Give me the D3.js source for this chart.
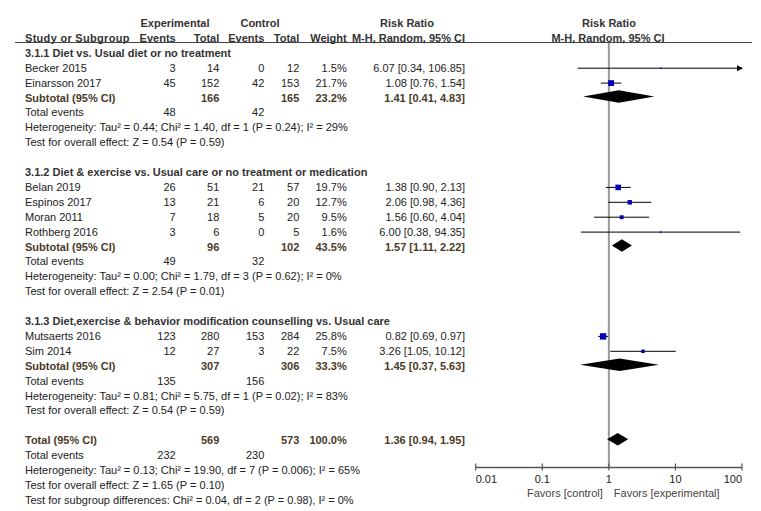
<!DOCTYPE html>
<html>
<head>
<meta charset="utf-8">
<script src="https://cdn.jsdelivr.net/npm/d3@7"></script>
<style>
  body { margin: 0; background: #fff; }
  svg { display: block; font-family: "Liberation Sans", Arial, sans-serif; font-size: 11px; }
</style>
</head>
<body>
<div id="chart"></div>
<script>
'use strict';

var W = 761, H = 511;

// study level data
var studies = ['Becker 2015', 'Einarsson 2017', 'Belan 2019', 'Espinos 2017', 'Moran 2011', 'Rothberg 2016', 'Mutsaerts 2016', 'Sim 2014'];
var studyGroup = [0, 0, 1, 1, 1, 1, 2, 2];
var expEvents = [3, 45, 26, 13, 7, 3, 123, 12];
var expTotal = [14, 152, 51, 21, 18, 6, 280, 27];
var ctlEvents = [0, 42, 21, 6, 5, 0, 153, 3];
var ctlTotal = [12, 153, 57, 20, 20, 5, 284, 22];
var weights = [1.5, 21.7, 19.7, 12.7, 9.5, 1.6, 25.8, 7.5];
var rr = [6.07, 1.08, 1.38, 2.06, 1.56, 6.00, 0.82, 3.26];
var rrLo = [0.34, 0.76, 0.90, 0.98, 0.60, 0.38, 0.69, 1.05];
var rrHi = [106.85, 1.54, 2.13, 4.36, 4.04, 94.35, 0.97, 10.12];

// subgroup data
var groupTitles = [
    '3.1.1 Diet vs. Usual diet or no treatment',
    '3.1.2 Diet & exercise vs. Usual care or no treatment or medication',
    '3.1.3 Diet,exercise & behavior modification counselling vs. Usual care'
];
var subExpTotal = [166, 96, 307];
var subCtlTotal = [165, 102, 306];
var subWeight = [23.2, 43.5, 33.3];
var subRR = [1.41, 1.57, 1.45];
var subLo = [0.41, 1.11, 0.37];
var subHi = [4.83, 2.22, 5.63];
var subExpEvents = [48, 49, 135];
var subCtlEvents = [42, 32, 156];
var subHet = [
    'Heterogeneity: Tau\u00b2 = 0.44; Chi\u00b2 = 1.40, df = 1 (P = 0.24); I\u00b2 = 29%',
    'Heterogeneity: Tau\u00b2 = 0.00; Chi\u00b2 = 1.79, df = 3 (P = 0.62); I\u00b2 = 0%',
    'Heterogeneity: Tau\u00b2 = 0.81; Chi\u00b2 = 5.75, df = 1 (P = 0.02); I\u00b2 = 83%'
];
var subZ = [
    'Test for overall effect: Z = 0.54 (P = 0.59)',
    'Test for overall effect: Z = 2.54 (P = 0.01)',
    'Test for overall effect: Z = 0.54 (P = 0.59)'
];

// overall
var totExpTotal = 569, totCtlTotal = 573, totWeight = 100.0;
var totRR = 1.36, totLo = 0.94, totHi = 1.95;
var totExpEvents = 232, totCtlEvents = 230;
var totNotes = [
    'Heterogeneity: Tau\u00b2 = 0.13; Chi\u00b2 = 19.90, df = 7 (P = 0.006); I\u00b2 = 65%',
    'Test for overall effect: Z = 1.65 (P = 0.10)',
    'Test for subgroup differences: Chi\u00b2 = 0.04, df = 2 (P = 0.98), I\u00b2 = 0%'
];

var axisTicks = [0.01, 0.1, 1, 10, 100];
var axisLabels = ['0.01', '0.1', '1', '10', '100'];

var svg = d3.select('#chart').append('svg')
    .attr('width', W)
    .attr('height', H);

var y = d3.scaleLinear().domain([0, 32]).range([23, 499.8]);
var x = d3.scaleLog().domain([0.01, 100]).range([475.7, 742]);

var TXT = '#222', HEAD = '#333', SUB = '#4a3b28', BLUE = '#0000b8';

// column right edges
var col = { name: 25, ee: 175.7, et: 219.3, ce: 264.3, ct: 299.3, w: 346.7, rr: 465 };

function txt(xx, row, s, anchor, opts) {
    opts = opts || {};
    return svg.append('text')
        .attr('x', xx)
        .attr('y', y(row) + 4)
        .attr('text-anchor', anchor || 'start')
        .attr('fill', opts.fill || TXT)
        .attr('font-weight', opts.bold ? 'bold' : null)
        .text(s);
}

function fmtCI(v, lo, hi) {
    return v.toFixed(2) + ' [' + lo.toFixed(2) + ', ' + hi.toFixed(2) + ']';
}

// headers
var hb = { bold: true, fill: HEAD };
txt(175, 0, 'Experimental', 'middle', hb);
txt(260, 0, 'Control', 'middle', hb);
txt(407, 0, 'Risk Ratio', 'middle', hb);
txt(609, 0, 'Risk Ratio', 'middle', hb);
txt(col.name, 1, 'Study or Subgroup', 'start', hb).attr('letter-spacing', 0.3);
txt(col.ee, 1, 'Events', 'end', hb);
txt(col.et, 1, 'Total', 'end', hb);
txt(col.ce, 1, 'Events', 'end', hb);
txt(col.ct, 1, 'Total', 'end', hb);
txt(col.w, 1, 'Weight', 'end', hb);
txt(col.rr, 1, 'M-H, Random, 95% CI', 'end', hb);
txt(608, 1, 'M-H, Random, 95% CI', 'middle', hb);

svg.append('line')
    .attr('x1', 15).attr('x2', 752)
    .attr('y1', 42.5).attr('y2', 42.5)
    .attr('stroke', '#444').attr('stroke-width', 1);

// null line
svg.append('line')
    .attr('x1', x(1)).attr('x2', x(1))
    .attr('y1', 43).attr('y2', 467)
    .attr('stroke', '#999').attr('stroke-width', 2);

function diamond(row, v, lo, hi) {
    var cy = y(row) - 1, h = 6.3;
    svg.append('path')
        .attr('d', 'M' + x(lo) + ',' + cy + 'L' + x(v) + ',' + (cy - h) + 'L' + x(hi) + ',' + cy + 'L' + x(v) + ',' + (cy + h) + 'Z')
        .attr('fill', '#000');
}

// build rows
var row = 2;
groupTitles.forEach(function(title, g) {
    txt(col.name, row, title, 'start', hb);
    row++;
    studies.forEach(function(name, i) {
        if (studyGroup[i] !== g) return;
        txt(col.name, row, name);
        txt(col.ee, row, expEvents[i], 'end');
        txt(col.et, row, expTotal[i], 'end');
        txt(col.ce, row, ctlEvents[i], 'end');
        txt(col.ct, row, ctlTotal[i], 'end');
        txt(col.w, row, weights[i].toFixed(1) + '%', 'end');
        txt(col.rr, row, fmtCI(rr[i], rrLo[i], rrHi[i]), 'end');

        var cy = y(row) + 0.5;
        var hiX = x(Math.min(rrHi[i], 100));
        svg.append('line')
            .attr('x1', x(rrLo[i])).attr('x2', hiX)
            .attr('y1', cy).attr('y2', cy)
            .attr('stroke', '#000').attr('stroke-width', 1);
        if (rrHi[i] > 100) {
            svg.append('path')
                .attr('d', 'M' + (hiX + 1) + ',' + cy + 'L' + (hiX - 5) + ',' + (cy - 3) + 'L' + (hiX - 5) + ',' + (cy + 3) + 'Z')
                .attr('fill', '#000');
        }
        var s = Math.max(1.3, Math.sqrt(weights[i]) * 1.25);
        svg.append('rect')
            .attr('x', x(rr[i]) - s / 2).attr('y', cy - s / 2)
            .attr('width', s).attr('height', s)
            .attr('fill', BLUE);
        row++;
    });
    var sb = { bold: true, fill: SUB };
    txt(col.name, row, 'Subtotal (95% CI)', 'start', sb);
    txt(col.et, row, subExpTotal[g], 'end', sb);
    txt(col.ct, row, subCtlTotal[g], 'end', sb);
    txt(col.w, row, subWeight[g].toFixed(1) + '%', 'end', sb);
    txt(col.rr, row, fmtCI(subRR[g], subLo[g], subHi[g]), 'end', sb);
    diamond(row, subRR[g], subLo[g], subHi[g]);
    row++;
    txt(col.name, row, 'Total events');
    txt(col.ee, row, subExpEvents[g], 'end');
    txt(col.ce, row, subCtlEvents[g], 'end');
    row++;
    txt(col.name, row, subHet[g]);
    row++;
    txt(col.name, row, subZ[g]);
    row += 2;
});

// overall
var tb = { bold: true, fill: SUB };
txt(col.name, row, 'Total (95% CI)', 'start', tb);
txt(col.et, row, totExpTotal, 'end', tb);
txt(col.ct, row, totCtlTotal, 'end', tb);
txt(col.w, row, totWeight.toFixed(1) + '%', 'end', tb);
txt(col.rr, row, fmtCI(totRR, totLo, totHi), 'end', tb);
diamond(row, totRR, totLo, totHi);
row++;
txt(col.name, row, 'Total events');
txt(col.ee, row, totExpEvents, 'end');
txt(col.ce, row, totCtlEvents, 'end');
row++;
totNotes.forEach(function(n) {
    txt(col.name, row, n);
    row++;
});

// axis
var axisY = 467.5;
svg.append('line')
    .attr('x1', x(0.01)).attr('x2', x(100))
    .attr('y1', axisY).attr('y2', axisY)
    .attr('stroke', '#555').attr('stroke-width', 1.5);
svg.selectAll('.tick')
    .data(axisTicks)
    .enter().append('line')
    .attr('x1', function(d) { return x(d); })
    .attr('x2', function(d) { return x(d); })
    .attr('y1', axisY - 4).attr('y2', axisY + 3)
    .attr('stroke', '#555').attr('stroke-width', 1.2);
svg.selectAll('.ticklab')
    .data(axisTicks)
    .enter().append('text')
    .attr('x', function(d) { return x(d); })
    .attr('y', axisY + 15)
    .attr('fill', TXT)
    .attr('text-anchor', function(d, i) {
        return i === 0 ? 'start' : (i === axisTicks.length - 1 ? 'end' : 'middle');
    })
    .text(function(d, i) { return axisLabels[i]; });

svg.append('text')
    .attr('x', x(1) - 6).attr('y', axisY + 29)
    .attr('text-anchor', 'end').attr('fill', '#444')
    .text('Favors [control]');
svg.append('text')
    .attr('x', x(1) + 5).attr('y', axisY + 29)
    .attr('text-anchor', 'start').attr('fill', '#444')
    .text('Favors [experimental]');
</script>
</body>
</html>
